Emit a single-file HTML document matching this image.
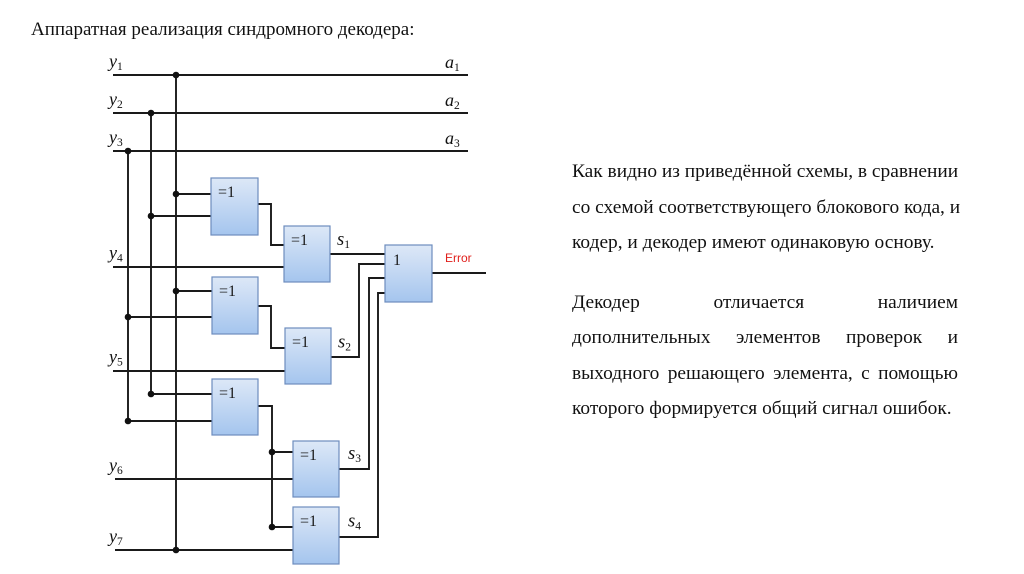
<!DOCTYPE html>
<html>
<head>
<meta charset="utf-8">
<style>
  html, body { margin:0; padding:0; background:#fff; }
  body { width:1024px; height:574px; position:relative; overflow:hidden; }
  .t { position:absolute; font-family:"Liberation Serif","Noto Serif CJK SC",serif; font-size:19px; color:#111; white-space:nowrap; line-height:19px; }
  .r { font-size:19.4px; }
  .j { position:absolute; font-family:"Liberation Serif","Noto Serif CJK SC",serif; font-size:19.4px; color:#111; width:386px; text-align:justify; text-align-last:justify; white-space:nowrap; line-height:19px; }
  svg { position:absolute; left:0; top:0; }
</style>
</head>
<body>
<div class="t" style="left:31px; top:20px;">Аппаратная реализация синдромного декодера:</div>

<div class="t r" style="left:572px; top:162px;">Как видно из приведённой схемы, в сравнении</div>
<div class="t r" style="left:572px; top:197.5px;">со схемой соответствующего блокового кода, и</div>
<div class="t r" style="left:572px; top:233px;">кодер, и декодер имеют одинаковую основу.</div>

<div class="j" style="left:572px; top:292.5px;">Декодер отличается наличием</div>
<div class="j" style="left:572px; top:328px;">дополнительных элементов проверок и</div>
<div class="j" style="left:572px; top:363.5px;">выходного решающего элемента, с помощью</div>
<div class="t r" style="left:572px; top:399px;">которого формируется общий сигнал ошибок.</div>

<svg width="1024" height="574" viewBox="0 0 1024 574" xmlns="http://www.w3.org/2000/svg">
  <defs>
    <linearGradient id="g" x1="0" y1="0" x2="0" y2="1">
      <stop offset="0" stop-color="#dde8f7"/>
      <stop offset="1" stop-color="#a5c5ee"/>
    </linearGradient>
  </defs>
  <g stroke="#1a1a1a" stroke-width="1.9" fill="none">
    <path d="M113 75 H468 M113 113 H468 M113 151 H468"/>
    <path d="M176 75 V550 M151 113 V394 M128 151 V421"/>
    <path d="M176 194 H211 M151 216 H211"/>
    <path d="M258 204 H271 V245 H284"/>
    <path d="M113 267 H284"/>
    <path d="M330 254 H385"/>
    <path d="M176 291 H212 M128 317 H212"/>
    <path d="M258 306 H271 V348 H285"/>
    <path d="M113 371 H285"/>
    <path d="M331 357 H359 V264 H385"/>
    <path d="M151 394 H212 M128 421 H212"/>
    <path d="M258 406 H272 V527 M272 452 H293 M272 527 H293"/>
    <path d="M115 479 H293"/>
    <path d="M339 469 H369 V278 H385"/>
    <path d="M115 550 H293"/>
    <path d="M339 537 H378 V293 H385"/>
    <path d="M432 273 H486"/>
  </g>
  <g fill="#111">
    <circle cx="176" cy="75" r="3.3"/>
    <circle cx="151" cy="113" r="3.3"/>
    <circle cx="128" cy="151" r="3.3"/>
    <circle cx="176" cy="194" r="3.3"/>
    <circle cx="151" cy="216" r="3.3"/>
    <circle cx="176" cy="291" r="3.3"/>
    <circle cx="128" cy="317" r="3.3"/>
    <circle cx="151" cy="394" r="3.3"/>
    <circle cx="128" cy="421" r="3.3"/>
    <circle cx="272" cy="452" r="3.3"/>
    <circle cx="272" cy="527" r="3.3"/>
    <circle cx="176" cy="550" r="3.3"/>
  </g>
  <g fill="url(#g)" stroke="#6d8dbd" stroke-width="1.2">
    <rect x="211" y="178" width="47" height="57"/>
    <rect x="284" y="226" width="46" height="56"/>
    <rect x="212" y="277" width="46" height="57"/>
    <rect x="285" y="328" width="46" height="56"/>
    <rect x="212" y="379" width="46" height="56"/>
    <rect x="293" y="441" width="46" height="56"/>
    <rect x="293" y="507" width="46" height="57"/>
    <rect x="385" y="245" width="47" height="57"/>
  </g>
  <g font-family="Liberation Serif, serif" font-size="16" fill="#1a1a1a">
    <text x="218" y="197">=1</text>
    <text x="291" y="245">=1</text>
    <text x="219" y="296">=1</text>
    <text x="292" y="347">=1</text>
    <text x="219" y="398">=1</text>
    <text x="300" y="460">=1</text>
    <text x="300" y="526">=1</text>
    <text x="393" y="265">1</text>
  </g>
  <text x="445" y="262" font-family="Liberation Sans, sans-serif" font-size="12" fill="#e0201c">Error</text>
  <g font-family="Liberation Serif, serif" font-style="italic" fill="#111">
    <text x="109" y="67" font-size="18">y<tspan font-size="11.5" font-style="normal" dy="3">1</tspan></text>
    <text x="109" y="105" font-size="18">y<tspan font-size="11.5" font-style="normal" dy="3">2</tspan></text>
    <text x="109" y="143" font-size="18">y<tspan font-size="11.5" font-style="normal" dy="3">3</tspan></text>
    <text x="109" y="258.5" font-size="18">y<tspan font-size="11.5" font-style="normal" dy="3">4</tspan></text>
    <text x="109" y="362.5" font-size="18">y<tspan font-size="11.5" font-style="normal" dy="3">5</tspan></text>
    <text x="109" y="471" font-size="18">y<tspan font-size="11.5" font-style="normal" dy="3">6</tspan></text>
    <text x="109" y="542" font-size="18">y<tspan font-size="11.5" font-style="normal" dy="3">7</tspan></text>
    <text x="445" y="68" font-size="18">a<tspan font-size="11.5" font-style="normal" dy="3">1</tspan></text>
    <text x="445" y="106" font-size="18">a<tspan font-size="11.5" font-style="normal" dy="3">2</tspan></text>
    <text x="445" y="144" font-size="18">a<tspan font-size="11.5" font-style="normal" dy="3">3</tspan></text>
    <text x="337" y="245" font-size="18.5">s<tspan font-size="11.5" font-style="normal" dy="3">1</tspan></text>
    <text x="338" y="347.5" font-size="18.5">s<tspan font-size="11.5" font-style="normal" dy="3">2</tspan></text>
    <text x="348" y="459" font-size="18.5">s<tspan font-size="11.5" font-style="normal" dy="3">3</tspan></text>
    <text x="348" y="526.5" font-size="18.5">s<tspan font-size="11.5" font-style="normal" dy="3">4</tspan></text>
  </g>
</svg>
</body>
</html>
